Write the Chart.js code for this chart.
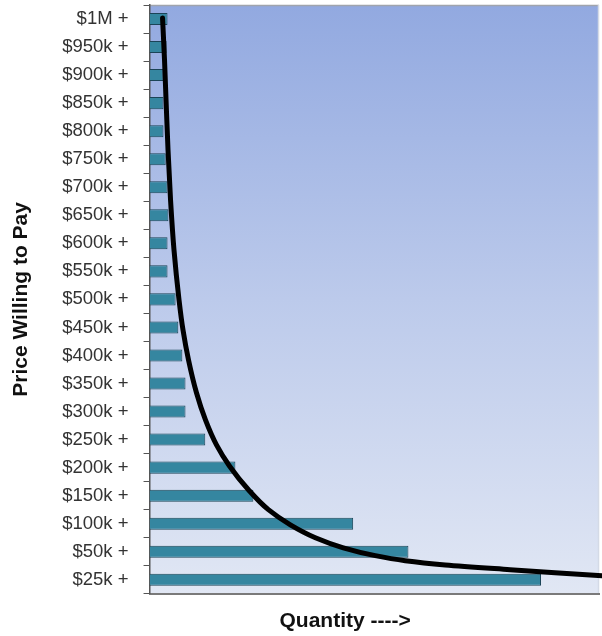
<!DOCTYPE html>
<html>
<head>
<meta charset="utf-8">
<script src="https://cdn.jsdelivr.net/npm/chart.js@4"></script>
<style>
  html, body { margin: 0; padding: 0; background: #ffffff; }
  #wrap { width: 602px; height: 636px; }
</style>
</head>
<body>
<div id="wrap"><canvas id="chart" width="602" height="636"></canvas></div>
<script>
// price brackets, top to bottom
const price_labels = ["$1M +", "$950k +", "$900k +", "$850k +", "$800k +", "$750k +", "$700k +",
    "$650k +", "$600k +", "$550k +", "$500k +", "$450k +", "$400k +", "$350k +", "$300k +",
    "$250k +", "$200k +", "$150k +", "$100k +", "$50k +", "$25k +"];

// quantity of buyers in each bracket (relative, 0 - 100)
const quantity = [4.0, 3.8, 3.1, 3.1, 3.1, 3.6, 4.0, 4.2, 4.0, 4.0, 5.8, 6.4, 7.3, 8.0, 8.0,
    12.4, 19.1, 23.1, 45.3, 57.6, 87.1];

// demand curve: quantity vs price bracket position (0 = $1M, 20 = $25k)
const curve_qty = [2.89, 3.33, 3.67, 4.11, 4.67, 5.44, 6.56, 7.44, 8.67, 10.44, 12.44, 14.89,
    17.78, 22.0, 26.44, 31.33, 36.89, 43.11, 50.22, 56.89, 65.78, 80.22, 90.22, 100.67];
const curve_rank = [-0.04, 1.46, 2.89, 4.67, 6.45, 8.24, 10.02, 11.09, 12.16, 13.33, 14.30,
    15.19, 15.94, 16.79, 17.50, 18.04, 18.50, 18.86, 19.14, 19.32, 19.47, 19.64, 19.75, 19.86];

var curve_points = []
for (let i = 0; i < curve_qty.length; i++) {
    curve_points.push({x: curve_qty[i], y: curve_rank[i]})
}

// blue gradient behind the plot + frame
const plot_bg = {
    id: "plot_bg",
    beforeDraw(chart) {
        const {ctx, chartArea: a} = chart;
        var grad = ctx.createLinearGradient(0, a.top, 0, a.bottom);
        grad.addColorStop(0, "#92a9e0");
        grad.addColorStop(0.5, "#bccaeb");
        grad.addColorStop(1, "#e1e7f4");
        ctx.save();
        ctx.fillStyle = grad;
        ctx.fillRect(a.left, a.top, a.right - a.left, a.bottom - a.top);
        ctx.strokeStyle = "#a0a4ac";
        ctx.lineWidth = 1.5;
        ctx.beginPath();
        ctx.moveTo(a.left, a.top + 0.5);
        ctx.lineTo(a.right, a.top + 0.5);
        ctx.stroke();
        ctx.strokeStyle = "#d4dae6";
        ctx.beginPath();
        ctx.moveTo(a.right - 0.5, a.top);
        ctx.lineTo(a.right - 0.5, a.bottom);
        ctx.stroke();
        ctx.restore();
    }
};

var chart = new Chart(document.getElementById("chart"), {
    type: "bar",
    data: {
        labels: price_labels,
        datasets: [
            {
                type: "line",
                data: curve_points,
                yAxisID: "y2",
                xAxisID: "x",
                borderColor: "#000000",
                borderWidth: 5,
                borderCapStyle: "round",
                borderJoinStyle: "round",
                pointRadius: 0,
                cubicInterpolationMode: "monotone",
                clip: 4,
                order: 0
            },
            {
                data: quantity,
                yAxisID: "y",
                backgroundColor: "#3586a0",
                borderColor: "#1b4457",
                borderWidth: 1,
                grouped: false,
                barPercentage: 0.43,
                categoryPercentage: 1.0,
                order: 1
            }
        ]
    },
    options: {
        indexAxis: "y",
        responsive: false,
        animation: false,
        layout: { padding: { top: 5, right: 3, bottom: 0, left: 0 } },
        plugins: {
            legend: { display: false },
            tooltip: { enabled: false }
        },
        scales: {
            x: {
                type: "linear",
                min: 0,
                max: 100,
                ticks: { display: false },
                grid: { display: false, drawTicks: false },
                border: { display: true, color: "#7a7a7a", width: 2 },
                title: {
                    display: true,
                    text: "Quantity ---->          ",
                    color: "#111111",
                    font: { family: "Liberation Sans", size: 21, weight: "bold" },
                    padding: { top: 15, bottom: 2 }
                }
            },
            y: {
                type: "category",
                offset: true,
                ticks: {
                    color: "#333333",
                    padding: 15,
                    font: { family: "Liberation Sans", size: 18.5 }
                },
                grid: { drawOnChartArea: false, drawTicks: true, tickLength: 6, color: "#555555", offset: true },
                border: { display: true, color: "#555555", width: 1.5 },
                title: {
                    display: true,
                    text: "Price Willing to Pay",
                    color: "#111111",
                    font: { family: "Liberation Sans", size: 21, weight: "bold" },
                    padding: { top: 9, bottom: 13 }
                },
                // labels sit inside the bands, no extra room needed above/below
                afterFit: function(scale) {
                    scale.paddingTop = 0;
                    scale.paddingBottom = 0;
                }
            },
            y2: {
                type: "linear",
                display: true,
                offset: false,
                min: -0.5,
                max: 20.5,
                reverse: true,
                ticks: { display: false },
                grid: { display: false, drawTicks: false, offset: false },
                border: { display: false },
                afterFit: function(scale) {
                    scale.width = 0;
                    scale.paddingTop = 0;
                    scale.paddingBottom = 0;
                }
            }
        }
    },
    plugins: [plot_bg]
});
</script>
</body>
</html>
